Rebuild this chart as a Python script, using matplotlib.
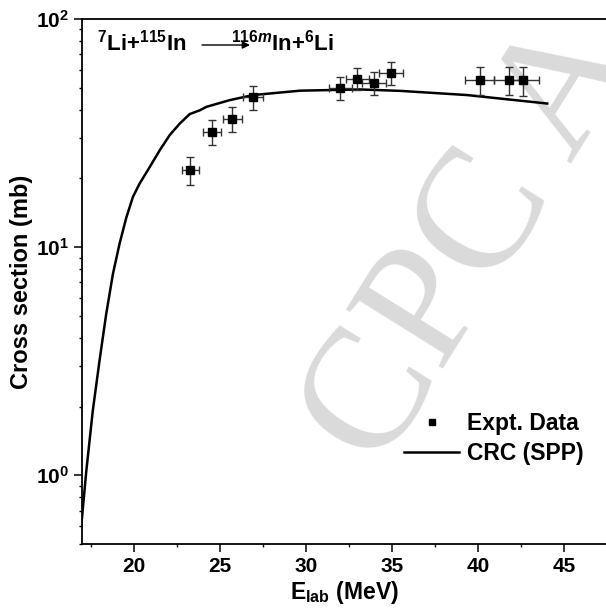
import matplotlib
matplotlib.use("Agg")
import matplotlib.pyplot as plt
from matplotlib.ticker import FixedLocator, FixedFormatter, LogLocator, NullFormatter, MultipleLocator

plt.rcParams['font.family'] = ['Liberation Sans', 'DejaVu Sans']
plt.rcParams['font.weight'] = 'bold'
plt.rcParams['mathtext.fontset'] = 'custom'
plt.rcParams['mathtext.rm'] = 'Liberation Sans:bold'
plt.rcParams['mathtext.bf'] = 'Liberation Sans:bold'
plt.rcParams['mathtext.it'] = 'Liberation Sans:bold:italic'
plt.rcParams['mathtext.default'] = 'bf'

# Experimental data
E_exp = [23.28, 24.52, 25.72, 26.92, 31.97, 32.97, 33.94, 34.92, 40.07, 41.78, 42.61]
sig_exp = [21.8, 31.9, 36.5, 45.5, 49.8, 54.7, 52.5, 58.1, 54.0, 54.0, 53.8]
sig_err = [3.0, 4.0, 4.5, 5.5, 5.7, 6.0, 6.0, 6.5, 7.8, 7.8, 7.8]
E_err = [0.5, 0.52, 0.55, 0.6, 0.67, 0.67, 0.7, 0.7, 0.83, 0.85, 0.89]

# CRC (SPP) calculation
E_crc = [16.94, 17.23, 17.61, 18.0, 18.39, 18.78, 19.17, 19.56, 19.94, 20.33, 20.91,
         21.5, 22.08, 22.66, 23.24, 23.83, 24.21, 25.57, 26.92, 29.65, 33.14, 35.47, 39.35, 44.0]
sig_crc = [0.60, 1.04, 1.92, 3.18, 5.10, 7.64, 10.4, 13.5, 16.6, 19.0, 22.4,
           26.6, 31.0, 34.8, 38.3, 39.8, 41.2, 44.1, 46.4, 48.5, 49.1, 48.4, 46.4, 42.6]

xticks = [20, 25, 30, 35, 40, 45]
yticks = [1, 10, 100]
ytick_labels = [r'$10^{0}$', r'$10^{1}$', r'$10^{2}$']

fig = plt.figure(figsize=(6.06, 6.08), dpi=100)
ax = fig.add_axes([0.1358, 0.1053, 1.0 - 0.1358 + 0.001, 0.8635])

# watermark (behind the axes content)
fig.text(0.78, 0.60, 'CPC A', fontsize=125, family='Liberation Serif', weight='normal',
         color='#dadada', rotation=58, ha='center', va='center', zorder=-1)
ax.set_facecolor('none')

ax.errorbar(E_exp, sig_exp, yerr=sig_err, xerr=E_err, fmt='none', ecolor='#333333',
            elinewidth=1.0, capsize=2.8, capthick=1.0, zorder=3)
ax.plot(E_exp, sig_exp, 's', color='black', ms=6, label='Expt. Data', zorder=4)
ax.plot(E_crc, sig_crc, '-', color='black', lw=1.8, label='CRC (SPP)', zorder=2)

ax.set_yscale('log')
ax.set_xlim(17, 47.45)
ax.set_ylim(0.5, 100)

ax.xaxis.set_major_locator(FixedLocator(xticks))
ax.xaxis.set_minor_locator(MultipleLocator(2.5))
ax.yaxis.set_major_locator(FixedLocator(yticks))
ax.yaxis.set_major_formatter(FixedFormatter(ytick_labels))
ax.yaxis.set_minor_locator(LogLocator(base=10, subs=range(2, 10)))
ax.yaxis.set_minor_formatter(NullFormatter())

for s in ['left', 'bottom', 'top']:
    ax.spines[s].set_linewidth(1.3)
ax.spines['right'].set_visible(False)

ax.tick_params(axis='both', which='major', direction='out', length=5.5, width=1.1,
               labelsize=15, pad=4)
ax.tick_params(axis='both', which='minor', direction='out', length=2.5, width=1.0)
ax.tick_params(top=False, right=False, which='both')
for lab in ax.get_xticklabels() + ax.get_yticklabels():
    lab.set_fontweight('bold')

ax.set_xlabel(r'E$_{\mathbf{lab}}$ (MeV)', fontsize=16.5, fontweight='bold', labelpad=2)
ax.set_ylabel('Cross section (mb)', fontsize=17, fontweight='bold', labelpad=2)

leg = ax.legend(loc='upper left', bbox_to_anchor=(0.575, 0.29), frameon=False,
                fontsize=16.5, handlelength=2.4, handletextpad=0.35, labelspacing=0.3,
                markerscale=0.8)

# reaction label
fig.text(97 / 606, 1 - 50 / 608, r'$^{7}$Li+$^{115}$In', fontsize=16, fontweight='bold',
         ha='left', va='baseline')
ax.annotate('', xy=(250 / 606, 1 - 45 / 608), xytext=(202 / 606, 1 - 45 / 608),
            xycoords='figure fraction', textcoords='figure fraction',
            arrowprops=dict(arrowstyle='-|>', lw=1.0, color='black', mutation_scale=11,
                            shrinkA=0, shrinkB=0))
fig.text(231 / 606, 1 - 50 / 608, r'$^{116\mathit{m}}$In+$^{6}$Li', fontsize=16,
         fontweight='bold', ha='left', va='baseline')

fig.savefig('out.png', dpi=100)
